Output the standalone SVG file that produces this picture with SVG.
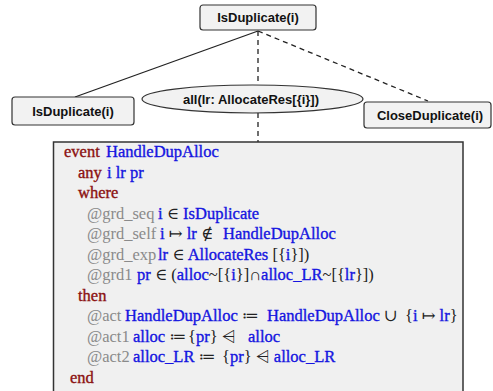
<svg xmlns="http://www.w3.org/2000/svg" width="493" height="391" viewBox="0 0 493 391">
<style>
.box{fill:#f2f2f2;stroke:#333;stroke-width:1.2}
.lbl{font-family:"Liberation Sans",Arial,sans-serif;font-weight:bold;font-size:13px;fill:#111;text-anchor:middle}
.code{font-family:"Liberation Serif","Times New Roman","DejaVu Serif",serif;font-size:16.5px}
.k{fill:#8b1010;stroke:#8b1010;stroke-width:0.35}
.b{fill:#1515e0;stroke:#1515e0;stroke-width:0.35}
.g{fill:#8a8a8a}
.d{fill:#222}
.conn{stroke:#222;stroke-width:1.3;fill:none}
.dash{stroke-dasharray:5,4}
</style>
<rect width="493" height="391" fill="#fff"/>
<g id="connectors">
<line class="conn" x1="258" y1="31" x2="75" y2="97"/>
<line class="conn dash" x1="258" y1="31" x2="258" y2="85"/>
<line class="conn dash" x1="258" y1="113" x2="258" y2="142"/>
<line class="conn dash" x1="258" y1="31" x2="428" y2="101"/>
</g>
<g id="top">
<rect class="box" x="200" y="5" width="116" height="25" rx="3"/>
<text class="lbl" x="258" y="22">IsDuplicate(i)</text>
</g>
<g id="left">
<rect class="box" x="12" y="97" width="122" height="28" rx="3"/>
<text class="lbl" x="73" y="115.5">IsDuplicate(i)</text>
</g>
<g id="quant">
<ellipse class="box" cx="252.5" cy="99" rx="110.5" ry="14"/>
<text class="lbl" x="251" y="103.5">all(lr: AllocateRes[{i}])</text>
</g>
<g id="right">
<rect class="box" x="364" y="102" width="127" height="26" rx="3"/>
<text class="lbl" x="430" y="119.5">CloseDuplicate(i)</text>
</g>
<g id="event">
<rect x="53.5" y="142" width="409.5" height="260" fill="#f0f0f0" stroke="#333" stroke-width="1.5"/>
<g class="code">
<text y="157"><tspan class="k" x="64">event</tspan><tspan class="b" x="106">HandleDupAlloc</tspan></text>
<text y="177.5"><tspan class="k" x="78">any</tspan><tspan class="b" x="107">i lr pr</tspan></text>
<text y="198"><tspan class="k" x="78">where</tspan></text>
<text y="218.5"><tspan class="g" x="87">@grd_seq</tspan><tspan class="b" x="158">i</tspan><tspan class="d"> ∈ </tspan><tspan class="b">IsDuplicate</tspan></text>
<text y="239"><tspan class="g" x="87">@grd_self</tspan><tspan class="b" x="160">i</tspan><tspan class="d"> ↦ </tspan><tspan class="b">lr</tspan><tspan class="d"> ∉</tspan><tspan class="b" x="223">HandleDupAlloc</tspan></text>
<text y="259.5"><tspan class="g" x="87">@grd_exp</tspan><tspan class="b" x="158">lr</tspan><tspan class="d"> ∈ </tspan><tspan class="b">AllocateRes</tspan><tspan class="d"> [{</tspan><tspan class="b">i</tspan><tspan class="d">}])</tspan></text>
<text y="280"><tspan class="g" x="87">@grd1</tspan><tspan class="b" x="137">pr</tspan><tspan class="d"> ∈ (</tspan><tspan class="b">alloc</tspan><tspan class="d">~[{</tspan><tspan class="b">i</tspan><tspan class="d">}]∩</tspan><tspan class="b">alloc_LR</tspan><tspan class="d">~[{</tspan><tspan class="b">lr</tspan><tspan class="d">}])</tspan></text>
<text y="300.5"><tspan class="k" x="78">then</tspan></text>
<text y="321"><tspan class="g" x="87">@act</tspan><tspan class="b" x="125">HandleDupAlloc</tspan><tspan class="d"> ≔</tspan><tspan class="b" x="267">HandleDupAlloc</tspan><tspan class="d"> ∪</tspan><tspan class="d" x="405">{</tspan><tspan class="b">i</tspan><tspan class="d"> ↦ </tspan><tspan class="b">lr</tspan><tspan class="d">}</tspan></text>
<text y="341.5"><tspan class="g" x="87">@act1</tspan><tspan class="b" x="133">alloc</tspan><tspan class="d"> ≔</tspan><tspan class="d" x="188">{</tspan><tspan class="b">pr</tspan><tspan class="d">} ⩤</tspan><tspan class="b" x="248">alloc</tspan></text>
<text y="362"><tspan class="g" x="87">@act2</tspan><tspan class="b" x="133">alloc_LR</tspan><tspan class="d"> ≔</tspan><tspan class="d" x="222">{</tspan><tspan class="b">pr</tspan><tspan class="d">} ⩤ </tspan><tspan class="b">alloc_LR</tspan></text>
<text y="382.5"><tspan class="k" x="70">end</tspan></text>
</g>
</g>
</svg>
